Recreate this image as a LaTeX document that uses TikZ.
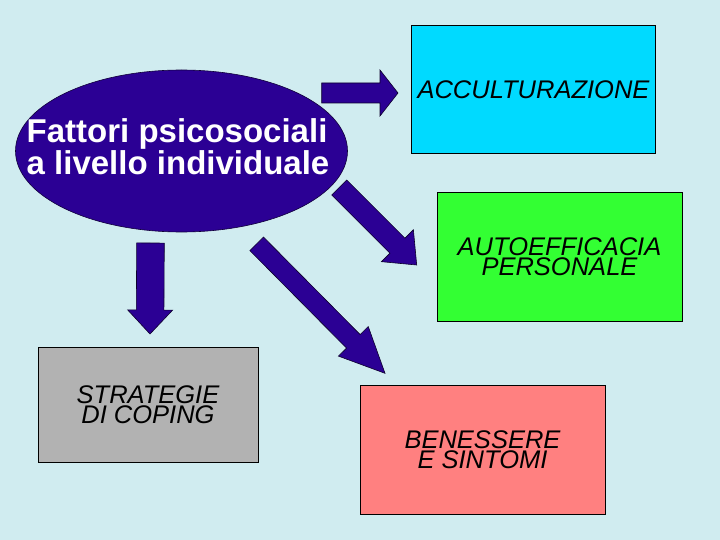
\documentclass[tikz,border=0pt]{standalone}
\usepackage{fontspec}
\setmainfont{Liberation Sans}
\usetikzlibrary{calc,shapes.geometric}
\definecolor{bgcol}{RGB}{208,236,240}
\definecolor{indigo}{RGB}{43,0,148}
\definecolor{cyanbox}{RGB}{0,218,255}
\definecolor{greenbox}{RGB}{51,255,51}
\definecolor{graybox}{RGB}{178,178,178}
\definecolor{salmonbox}{RGB}{255,128,128}
\tikzset{
  boxnode/.style={draw=black, line width=0.8pt, inner sep=0pt, align=center,
    font=\fontsize{25.5}{20}\selectfont\itshape},
  blockarrow/.style={fill=indigo, draw=black!70!indigo, line width=0.6pt, line join=miter},
  srcellipse/.style={ellipse, fill=indigo, draw=black!60!indigo, line width=0.6pt, inner sep=0pt},
  srclabel/.style={text=white, font=\fontsize{33}{29.5}\selectfont\bfseries, align=left, inner sep=0pt}
}
\newcommand{\barrow}[5]{%
  \coordinate (#1-#2-c) at ($(#2)!#5!(#1)$);
  \filldraw[blockarrow] ($(#1)!#3!90:(#2)$) -- ($(#1-#2-c)!#3!90:(#2)$) -- ($(#1-#2-c)!#4!90:(#2)$) -- (#2) -- ($(#1-#2-c)!#4!-90:(#2)$) -- ($(#1-#2-c)!#3!-90:(#2)$) -- ($(#1)!#3!-90:(#2)$) -- cycle;}
\begin{document}
\begin{tikzpicture}[x=1pt,y=-1pt]
\fill[bgcol] (0,0) rectangle (720,540);
\useasboundingbox (0,0) rectangle (720,540);

% source ellipse
\node[srcellipse, minimum width=332pt, minimum height=162pt] (src) at (181.5,151) {};
\node[srclabel, anchor=west] (srctext) at (26.5,146.4) {Fattori psicosociali\\a livello individuale};

% boxes
\node[boxnode, fill=cyanbox, minimum width=244pt, minimum height=128pt] (accult) at (533.5,89.5) {ACCULTURAZIONE};
\node[boxnode, fill=greenbox, minimum width=245pt, minimum height=129pt] (autoeff) at (559.5,257) {AUTOEFFICACIA\\PERSONALE};
\node[boxnode, fill=graybox, minimum width=220pt, minimum height=115pt] (coping) at (148,404.5) {STRATEGIE\\DI COPING};
\node[boxnode, fill=salmonbox, minimum width=245pt, minimum height=129pt] (benes) at (482.5,449.5) {BENESSERE\\E SINTOMI};

% block arrows
\coordinate (a0s) at (321.7,93);   \coordinate (a0t) at (398,93);
\coordinate (a1s) at (339.2,187.5); \coordinate (a1t) at (416.7,265);
\coordinate (a2s) at (256.7,243.8); \coordinate (a2t) at (385,373.3);
\coordinate (a3s) at (150.5,243);   \coordinate (a3t) at (150,334);
\barrow{a0s}{a0t}{10pt}{23pt}{18pt}
\barrow{a1s}{a1t}{10.6pt}{22.6pt}{27.3pt}
\barrow{a2s}{a2t}{9.6pt}{21pt}{45pt}
\barrow{a3s}{a3t}{13.8pt}{22.5pt}{24pt}
\end{tikzpicture}
\end{document}
